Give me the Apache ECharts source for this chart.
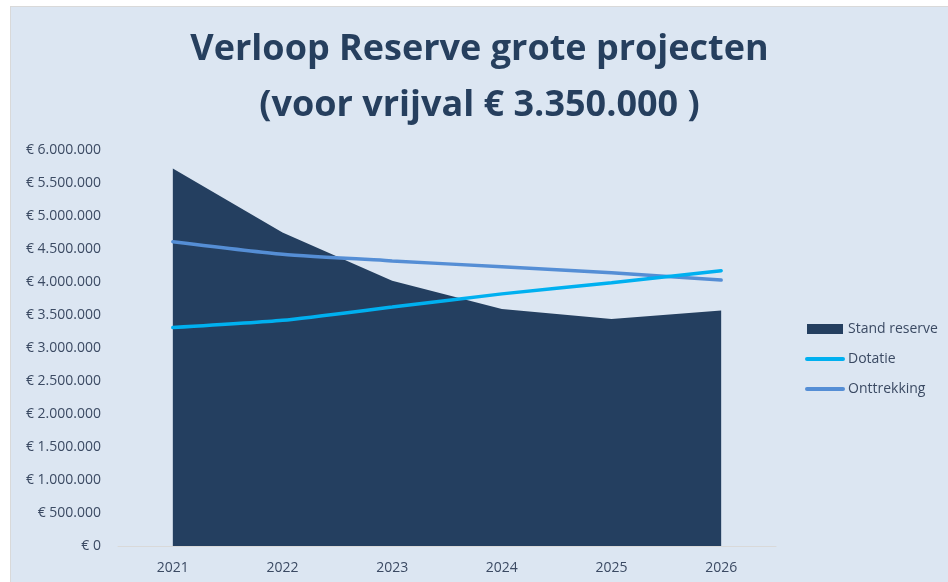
<!DOCTYPE html>
<html>
<head>
<meta charset="utf-8">
<script src="https://cdn.jsdelivr.net/npm/echarts@6/dist/echarts.min.js"></script>
<style>
  html, body { margin: 0; padding: 0; background: #ffffff; }
  #chart {
    position: absolute; left: 10px; top: 6px;
    width: 938px; height: 576px;
    border-left: 1px solid #d9d9d9; border-top: 1px solid #d9d9d9;
    box-sizing: border-box;
    background: #dce6f2;
  }
</style>
</head>
<body>
<div id="chart"></div>
<script>
// jaren en waarden
var years = ['2021', '2022', '2023', '2024', '2025', '2026'];
var standReserve = [5720000, 4750000, 4020000, 3590000, 3440000, 3570000];
var dotatie = [3310000, 3420000, 3620000, 3820000, 3990000, 4170000];
var onttrekking = [4610000, 4420000, 4320000, 4230000, 4140000, 4030000];

var textColor = '#3b4a63';
var labelFont = '"Open Sans", "Liberation Sans", sans-serif';

function euro(v) {
    var s = String(Math.round(v)).replace(/\B(?=(\d{3})+(?!\d))/g, '.');
    return '€ ' + s;
}

var chart = echarts.init(document.getElementById('chart'));
var option = {
    backgroundColor: '#dce6f2',
    animation: false,
    title: {
        text: 'Verloop Reserve grote projecten\n(voor vrijval € 3.350.000 )',
        left: 'center',
        top: 15,
        padding: 0,
        textStyle: {
            fontFamily: '"Open Sans", sans-serif',
            fontWeight: 'bold',
            fontSize: 36,
            lineHeight: 56,
            color: '#263f5e'
        }
    },
    legend: {
        orient: 'vertical',
        left: 789,
        top: 310,
        itemWidth: 36,
        itemHeight: 10,
        itemGap: 16,
        textStyle: { fontFamily: labelFont, fontSize: 14, color: textColor },
        data: [
            { name: 'Stand reserve', icon: 'rect' },
            { name: 'Dotatie', itemStyle: { opacity: 0 }, lineStyle: { width: 4, cap: 'round' } },
            { name: 'Onttrekking', itemStyle: { opacity: 0 }, lineStyle: { width: 4, cap: 'round' } }
        ]
    },
    grid: { left: 107, right: 172, top: 143, bottom: 36, containLabel: false },
    xAxis: {
        type: 'category',
        data: years,
        boundaryGap: true,
        axisLine: { lineStyle: { color: '#d9d9d9', width: 1 } },
        axisTick: { show: false },
        axisLabel: { margin: 15, fontFamily: labelFont, fontSize: 14, color: textColor }
    },
    yAxis: {
        type: 'value',
        min: 0,
        max: 6000000,
        interval: 500000,
        axisLine: { show: false },
        axisTick: { show: false },
        splitLine: { show: false },
        axisLabel: {
            margin: 17,
            fontFamily: labelFont, fontSize: 14, color: textColor,
            formatter: euro
        }
    },
    series: [
        {
            name: 'Stand reserve',
            type: 'line',
            data: standReserve,
            symbol: 'none',
            itemStyle: { color: '#243f60' },
            lineStyle: { width: 0 },
            areaStyle: { color: '#243f60', opacity: 1 },
            z: 1
        },
        {
            name: 'Dotatie',
            type: 'line',
            data: dotatie,
            symbol: 'none',
            smooth: 0.2,
            itemStyle: { color: '#00b0f0' },
            lineStyle: { width: 3.5, color: '#00b0f0', cap: 'round' },
            z: 3
        },
        {
            name: 'Onttrekking',
            type: 'line',
            data: onttrekking,
            symbol: 'none',
            smooth: 0.2,
            itemStyle: { color: '#558ed5' },
            lineStyle: { width: 3.5, color: '#558ed5', cap: 'round' },
            z: 2
        }
    ]
};
chart.setOption(option);
</script>
</body>
</html>
